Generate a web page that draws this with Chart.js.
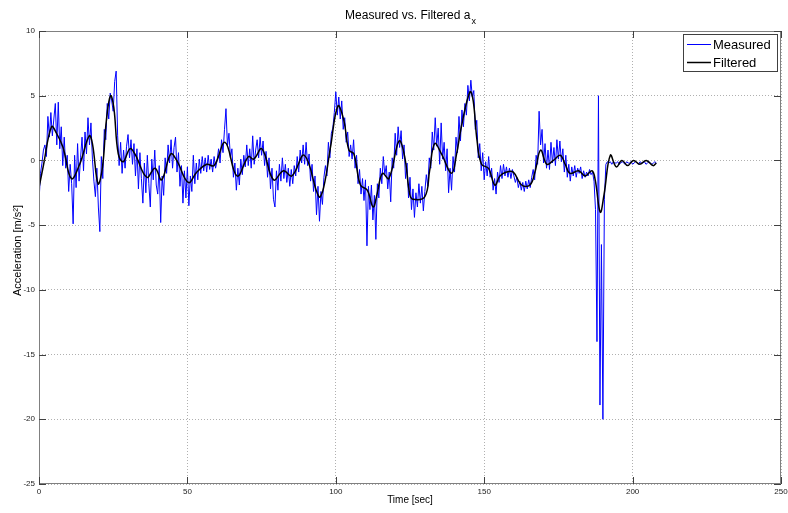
<!DOCTYPE html>
<html>
<head>
<meta charset="utf-8">
<script src="https://cdn.jsdelivr.net/npm/chart.js@4.4.1/dist/chart.umd.min.js"></script>
<style>
html, body { margin: 0; padding: 0; background: #fff; }
#wrap { width: 788px; height: 513px; }
</style>
</head>
<body>
<div id="wrap"><canvas id="chart" width="788" height="513"></canvas></div>
<script>
// time axis ticks
const xTicks = [0, 50, 100, 150, 200, 250];
const yTicks = [-25, -20, -15, -10, -5, 0, 5, 10];

// measured a_x, one sample every 0.5 s starting at t = 0
const measuredStep = 0.5;
const measuredValues = [
    -3.2, -1.0, -0.2, 0.8, 1.2, 0.3, 3.4, 1.8, 3.7, 1.9, 3.2, 4.4, 1.2, 4.5, 0.9, 2.6, -0.4, 1.8, -0.6, 0.4,
    -2.4, -0.3, -1.8, -4.9, 0.4, -2.1, 1.3, -1.6, 0.2, 1.8, -0.8, 2.2, 0.5, 3.3, 1.2, 2.9, 0.1, -1.6, -2.8, -0.6,
    -3.6, -5.5, 0.3, -1.4, 2.4, 1.6, 4.4, 3.2, 5.2, 4.6, 3.8, 6.1, 6.9, 1.9, -0.4, 1.4, -1.0, 0.8, -0.6, 1.1,
    2.0, 0.2, 1.6, -0.3, 1.3, -1.2, 0.9, -2.2, 0.6, -1.4, -3.3, -0.2, -2.5, 0.4, -1.8, -3.6, 0.1, -1.5, 0.8, -1.9,
    -2.6, -0.4, -4.8, -1.2, -2.7, 0.2, -1.0, 1.2, -0.2, 1.6, -0.6, 1.0, 1.8, -0.9, 0.6, -2.0, -0.4, -3.3, -0.8, -2.9,
    -0.5, -3.5, -1.2, -2.4, 0.4, -1.8, -0.2, -1.5, 0.1, -1.0, 0.3, -0.8, 0.2, -0.9, 0.4, -0.7, 0.1, -0.9, 0.3, -0.6,
    0.0, 0.9, -0.2, 1.6, 0.6, 2.4, 4.0, 1.1, 2.1, 0.2, 0.9, -1.3, -0.2, -2.3, -0.6, -1.9, 0.1, -1.1, 0.4, -0.5,
    1.2, -0.4, 0.9, -0.6, 1.9, -0.3, 0.8, 1.6, 0.2, 1.8, 0.4, 1.5, -0.4, 0.7, -1.3, 0.2, -2.2, -0.6, -3.0, -3.6,
    -0.8, -2.3, -0.3, -1.6, 0.2, -1.4, -0.3, -1.7, -0.6, -2.0, -0.7, -1.8, -0.4, -1.2, 0.3, -0.9, 0.8, -0.2, 1.2, -0.3,
    1.4, -0.4, 0.5, -1.6, -0.3, -2.4, -1.2, -4.2, -2.0, -4.7, -2.4, -3.4, -1.3, -0.4, -1.2, 1.4, 0.2, 2.1, 2.5, 3.7,
    5.3, 3.5, 4.9, 3.2, 4.6, 2.4, 3.3, 1.4, 2.2, 0.3, 1.2, 0.1, 1.6, -0.6, 0.4, -1.8, -0.7, -2.6, -1.4, -3.1,
    -1.5, -6.6, -2.0, -3.8, -1.9, -4.6, -2.7, -6.1, -1.8, -2.9, -0.6, -1.8, 0.3, -1.1, -0.4, -2.2, -0.9, -3.2, 0.2, -0.6,
    2.1, 0.4, 2.6, 1.0, 2.3, 0.1, 1.2, -1.4, -0.2, -2.9, -1.3, -3.8, -2.2, -4.4, -2.5, -3.6, -1.8, -3.3, -2.0, -3.9,
    -2.4, -1.1, -2.0, 0.2, -0.6, 2.2, 0.8, 3.3, 1.1, 2.5, -0.3, 2.9, 0.1, 1.4, -0.8, 0.9, -2.5, -0.6, -2.3, 0.3,
    -0.9, 1.8, 0.6, 3.4, 1.5, 3.9, 2.6, 4.4, 3.5, 5.8, 4.6, 6.2, 4.9, 5.4, 2.4, 3.1, 0.2, 1.3, -0.8, 0.6,
    -1.5, -0.1, -1.2, 0.3, -1.3, -0.6, -2.3, -1.4, -2.6, -0.9, -1.7, -0.4, -1.4, -0.3, -1.2, -0.5, -1.3, -0.6, -1.4, -0.7,
    -1.2, -1.7, -1.3, -2.1, -1.6, -2.3, -1.7, -2.4, -1.6, -2.2, -1.5, -2.1, -1.3, -0.7, -1.5, 0.4, -0.3, 3.8, 1.2, 2.4,
    -0.2, 1.3, -0.6, 0.8, -0.7, 1.4, -0.2, 1.0, -0.4, 1.6, 0.1, 1.5, -0.1, 0.9, -0.9, 0.4, -1.3, -0.3, -1.6, -0.5,
    -1.2, -0.4, -1.3, -0.6, -1.0, -0.5, -1.4, -0.8, -1.3, -0.9, -1.2, -0.7, -1.1, -0.9, -1.6, -3.8, -14.0, 5.0, -18.9, -6.5,
    -20.0, -3.0, -0.3, -0.1, -0.2, -0.1, -0.3, -0.1, -0.2, -0.2, -0.1, -0.3, -0.2, -0.1, -0.2, -0.3, -0.1, -0.2, -0.2, -0.1,
    -0.3, -0.2, -0.1, -0.2, -0.3, -0.1, -0.2, -0.2, -0.1, -0.3, -0.2, -0.1, -0.2, -0.3, -0.2, -0.1, -0.2
];

// filtered a_x, read at the turning points of the black curve
const filteredTime = [
    0, 1.4, 4.2, 5.9, 8.1, 10.9, 13.7, 16.9, 18, 19.9, 21.4, 22.7, 24.1, 25.2, 26.7, 28.4, 30.6, 32.3, 36.3, 39.1,
    41.3, 44.4, 46.4, 50.3, 53.2, 56.5, 59, 62.7, 66.7, 70.6, 72.3, 75.1, 79, 82.4, 85.2, 89.4, 94.3, 95.9, 98.2, 100.7,
    102.7, 104.4, 106.1, 108.3, 110.6, 112.6, 113.9, 115.7, 117.9, 121.3, 123.2, 124.9, 126, 130, 131.6, 133.3, 135.6, 139, 140.7, 142.3,
    145.2, 146.3, 147.6, 149.1, 151.4, 153.6, 155.3, 157.5, 159.8, 162.6, 165.4, 167.1, 169, 171.1, 173.3, 175.6, 177.3, 178.9, 181.8, 184,
    186.3, 187.4, 189.1, 190.4, 192.5, 194.5, 196.4, 198.3, 200.3, 202.4, 204.6, 206.9, 208
];
const filteredValues = [
    -2.1, -0.5, 2.6, 2.1, 1.0, -1.4, -0.3, 1.9, 1.3, -1.8, -0.5, 3.1, 5.0, 4.1, 0.5, -0.1, 0.9, 0.5, -1.3, -0.6,
    -1.5, 0.5, 0, -1.7, -0.9, -0.3, -0.4, 1.4, -1.2, 0.3, 0.1, 0.9, -1.5, -0.8, -1.2, 0.4, -2.8, -2.1, 1.0, 4.2,
    3.1, 0.8, 0.5, -1.9, -2.3, -3.6, -2.6, -1.0, -1.4, 1.5, 0.3, -2.6, -3.0, -2.8, -0.8, 1.3, 0.5, -1.0, 0.5, 2.6,
    5.3, 4.6, 1.5, -0.3, -0.6, -1.9, -1.2, -0.9, -0.9, -1.9, -1.9, -0.9, 0.8, -0.3, 0, 0.4, -0.3, -1.0, -0.8, -1.2,
    -0.8, -1.5, -4.0, -2.6, 0.4, -0.5, 0, -0.4, 0, -0.3, 0, -0.4, -0.2
];

const seriesNames = ["Measured", "Filtered"];
const seriesColors = ["rgb(0,0,255)", "#000000"];

const FONT = "'Liberation Sans', Arial, sans-serif";
const TICK_FONT = "'Liberation Sans Narrow', 'Liberation Sans', Arial, sans-serif";

// matlab style: boxed axes, inward ticks, title, axis labels and legend
const matlabFrame = {
    id: "matlabFrame",
    afterDraw(chart) {
        const {ctx, chartArea: a, scales: {x, y}} = chart;
        ctx.save();

        ctx.strokeStyle = "#808080";
        ctx.lineWidth = 1;
        ctx.strokeRect(a.left + 0.5, a.top + 0.5, a.right - a.left - 1, a.bottom - a.top - 1);

        ctx.strokeStyle = "#404040";
        ctx.beginPath();
        xTicks.forEach(v => {
            const px = Math.round(x.getPixelForValue(v)) + 0.5;
            ctx.moveTo(px, a.bottom); ctx.lineTo(px, a.bottom - 7);
            ctx.moveTo(px, a.top); ctx.lineTo(px, a.top + 7);
        });
        yTicks.forEach(v => {
            const py = Math.round(y.getPixelForValue(v)) + 0.5;
            ctx.moveTo(a.left, py); ctx.lineTo(a.left + 7, py);
            ctx.moveTo(a.right, py); ctx.lineTo(a.right - 7, py);
        });
        ctx.stroke();

        // title with subscript x
        const cx = (a.left + a.right) / 2;
        ctx.fillStyle = "#000";
        ctx.textBaseline = "alphabetic";
        ctx.textAlign = "left";
        const main = "Measured vs. Filtered a";
        ctx.font = "12px " + FONT;
        const wMain = ctx.measureText(main).width;
        ctx.font = "9px " + FONT;
        const wSub = ctx.measureText("x").width;
        const startX = cx - (wMain + wSub) / 2;
        ctx.font = "12px " + FONT;
        ctx.fillText(main, startX, 19);
        ctx.font = "9px " + FONT;
        ctx.fillText("x", startX + wMain + 1, 24);

        // axis labels
        ctx.textAlign = "center";
        ctx.textBaseline = "middle";
        ctx.font = "10px " + FONT;
        ctx.fillText("Time [sec]", cx, 500);
        ctx.save();
        ctx.translate(18, (a.top + a.bottom) / 2 - 7);
        ctx.rotate(-Math.PI / 2);
        ctx.font = "11px " + FONT;
        ctx.fillText("Acceleration [m/s\u00B2]", 0, 0);
        ctx.restore();

        // legend box
        const lx = 683, ly = 34, lw = 94, lh = 37;
        ctx.fillStyle = "#fff";
        ctx.fillRect(lx, ly, lw, lh);
        ctx.strokeStyle = "#404040";
        ctx.strokeRect(lx + 0.5, ly + 0.5, lw, lh);
        ctx.textAlign = "left";
        ctx.font = "13px " + FONT;
        seriesNames.forEach((name, i) => {
            const rowY = ly + 10 + i * 18;
            ctx.strokeStyle = seriesColors[i];
            ctx.lineWidth = i === 0 ? 1 : 1.5;
            ctx.beginPath();
            ctx.moveTo(lx + 4, rowY + 0.5);
            ctx.lineTo(lx + 28, rowY + 0.5);
            ctx.stroke();
            ctx.fillStyle = "#000";
            ctx.fillText(name, lx + 30, rowY + 1);
        });

        ctx.restore();
    }
};

const measuredData = measuredValues.map((v, i) => ({x: i * measuredStep, y: v}));
const filteredData = filteredTime.map((t, i) => ({x: t, y: filteredValues[i]}));

new Chart(document.getElementById("chart"), {
    type: "line",
    data: {
        datasets: [{
            label: seriesNames[0],
            data: measuredData,
            borderColor: seriesColors[0],
            borderWidth: 1,
            pointRadius: 0,
            tension: 0,
            order: 2
        }, {
            label: seriesNames[1],
            data: filteredData,
            borderColor: seriesColors[1],
            borderWidth: 1.5,
            pointRadius: 0,
            tension: 0.4,
            order: 1
        }]
    },
    options: {
        responsive: false,
        animation: false,
        layout: {
            padding: {top: 31, right: 7, bottom: 0, left: 0}
        },
        plugins: {
            legend: {display: false},
            title: {display: false},
            tooltip: {enabled: false}
        },
        scales: {
            x: {
                type: "linear",
                min: 0,
                max: 250,
                afterFit: (scale) => {
                    scale.height = 29;
                    scale.paddingLeft = 0;
                    scale.paddingRight = 0;
                },
                afterBuildTicks: (scale) => { scale.ticks = xTicks.map(v => ({value: v})); },
                ticks: {
                    padding: 3,
                    color: "#222",
                    maxRotation: 0,
                    font: {family: TICK_FONT, size: 8}
                },
                grid: {color: "#b0b0b0", lineWidth: 1, drawTicks: false},
                border: {display: false, dash: [1, 2]}
            },
            y: {
                min: -25,
                max: 10,
                afterFit: (scale) => { scale.width = 39; },
                afterBuildTicks: (scale) => { scale.ticks = yTicks.map(v => ({value: v})); },
                ticks: {
                    padding: 4,
                    color: "#222",
                    font: {family: TICK_FONT, size: 8}
                },
                grid: {color: "#b0b0b0", lineWidth: 1, drawTicks: false},
                border: {display: false, dash: [1, 2]}
            }
        }
    },
    plugins: [matlabFrame]
});
</script>
</body>
</html>
